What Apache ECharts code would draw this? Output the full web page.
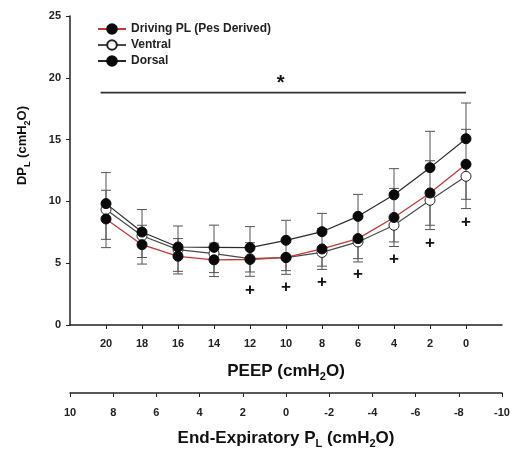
<!DOCTYPE html>
<html>
<head>
<meta charset="utf-8">
<script src="https://cdn.jsdelivr.net/npm/echarts@6/dist/echarts.min.js"></script>
<style>html,body{margin:0;padding:0;background:#fff}#c{width:515px;height:453px}</style>
</head>
<body>
<div id="c"></div>
<script>
// ---- data ----
const PEEP = [20, 18, 16, 14, 12, 10, 8, 6, 4, 2, 0];
const PL_TICKS = [10, 8, 6, 4, 2, 0, -2, -4, -6, -8, -10];
const dorsal    = [9.82, 7.52, 6.31, 6.28, 6.26, 6.85, 7.55, 8.79, 10.53, 12.73, 15.07];
const dorsalSD  = [2.51, 1.82, 1.70, 1.80, 1.70, 1.62, 1.48, 1.78, 2.12, 2.94, 2.89];
const driving   = [8.58, 6.50, 5.56, 5.27, 5.30, 5.47, 6.15, 6.99, 8.70, 10.68, 13.00];
const drivingSD = [2.32, 1.57, 1.43, 1.35, 1.36, 1.37, 1.65, 1.89, 2.35, 2.61, 2.83];
const ventral   = [9.34, 7.22, 6.10, 5.78, 5.37, 5.45, 5.87, 6.72, 8.07, 10.09, 12.03];
const ventralSD = [2.41, 1.76, 1.76, 1.54, 1.08, 1.05, 1.11, 1.35, 1.35, 2.37, 2.61];
const plusPEEP  = [12, 10, 8, 6, 4, 2, 0];
const plusY     = [2.80, 3.05, 3.42, 4.10, 5.33, 6.60, 8.30];
const sigLineX  = [20.3, 0];
const sigLineY  = 18.8;
const starX     = 10.3;
const starY     = 19.5;

const FONT = '"Liberation Sans", Arial, Helvetica, sans-serif';
const pairs = (xs, ys) => xs.map((x, i) => [x, ys[i]]);
const triples = (xs, ys, es) => xs.map((x, i) => [x, ys[i], es[i]]);

function errSeries(vals, sds, dir) {
  return {
    type: 'custom', z: 1, silent: true,
    encode: { x: 0, y: 1 },
    data: triples(PEEP, vals, sds),
    renderItem: function (params, api) {
      const x = api.value(0), y = api.value(1), sd = api.value(2);
      const c = api.coord([x, y]);
      const hi = api.coord([x, y + sd]);
      const lo = api.coord([x, y - sd]);
      const w = 5;
      const style = { stroke: '#555', lineWidth: 1 };
      const ch = [];
      if (dir !== 'down') {
        ch.push({ type: 'line', shape: { x1: c[0], y1: c[1], x2: hi[0], y2: hi[1] }, style: style });
        ch.push({ type: 'line', shape: { x1: hi[0] - w, y1: hi[1], x2: hi[0] + w, y2: hi[1] }, style: style });
      }
      if (dir !== 'up') {
        ch.push({ type: 'line', shape: { x1: c[0], y1: c[1], x2: lo[0], y2: lo[1] }, style: style });
        ch.push({ type: 'line', shape: { x1: lo[0] - w, y1: lo[1], x2: lo[0] + w, y2: lo[1] }, style: style });
      }
      return { type: 'group', children: ch };
    }
  };
}

function textSeries(xs, ys, txt, size) {
  return {
    type: 'custom', z: 5, silent: true,
    encode: { x: 0, y: 1 },
    data: pairs(xs, ys),
    renderItem: function (params, api) {
      const c = api.coord([api.value(0), api.value(1)]);
      return { type: 'text', x: c[0], y: c[1],
        style: { text: txt, fill: '#111', font: 'bold ' + size + 'px ' + FONT, align: 'center', verticalAlign: 'middle' } };
    }
  };
}

const titleRich = {
  a: { fontSize: 17, fontWeight: 'bold', fontFamily: FONT, color: '#111', lineHeight: 22 },
  s: { fontSize: 11, fontWeight: 'bold', fontFamily: FONT, color: '#111', lineHeight: 12, verticalAlign: 'bottom' }
};
const yRich = {
  a: { fontSize: 13, fontWeight: 'bold', fontFamily: FONT, color: '#111', lineHeight: 20 },
  s: { fontSize: 9, fontWeight: 'bold', fontFamily: FONT, color: '#111', lineHeight: 11, verticalAlign: 'bottom' }
};
const axisLbl = { fontSize: 11, fontWeight: 'bold', fontFamily: FONT, color: '#222' };
const axisLineStyle = { color: '#222', width: 1.5 };

const chart = echarts.init(document.getElementById('c'), null, { renderer: 'canvas' });
chart.setOption({
  animation: false,
  backgroundColor: '#fff',
  grid: { left: 70, right: 13, top: 16, bottom: 128, outerBoundsMode: 'none', containLabel: false },
  legend: {
    orient: 'vertical', left: 92, top: 18,
    itemWidth: 28, itemHeight: 12, itemGap: 4,
    data: ['Driving PL (Pes Derived)', 'Ventral', 'Dorsal'],
    textStyle: { fontSize: 12, fontWeight: 'bold', fontFamily: FONT, color: '#222' }
  },
  xAxis: [
    {
      type: 'value', min: -2, max: 22, interval: 2, inverse: true, position: 'bottom',
      axisLine: { show: true, onZero: false, lineStyle: axisLineStyle },
      axisTick: { show: true, length: 4, customValues: PEEP, lineStyle: { color: '#222' } },
      axisLabel: { customValues: PEEP, margin: 13, ...axisLbl },
      splitLine: { show: false },
      name: '{a|PEEP (cmH}{s|2}{a|O)}', nameLocation: 'middle', nameGap: 35, nameMoveOverlap: false,
      nameTextStyle: { rich: titleRich }
    },
    {
      type: 'value', min: -10, max: 10, interval: 2, inverse: true, position: 'bottom', offset: 68,
      axisLine: { show: true, onZero: false, lineStyle: axisLineStyle },
      axisTick: { show: true, length: 4, customValues: PL_TICKS, lineStyle: { color: '#222' } },
      axisLabel: { customValues: PL_TICKS, margin: 14, ...axisLbl },
      splitLine: { show: false },
      name: '{a|End-Expiratory P}{s|L}{a| (cmH}{s|2}{a|O)}', nameLocation: 'middle', nameGap: 34, nameMoveOverlap: false,
      nameTextStyle: { rich: titleRich }
    }
  ],
  yAxis: {
    type: 'value', min: 0, max: 25, interval: 5,
    axisLine: { show: true, onZero: false, lineStyle: axisLineStyle },
    axisTick: { show: true, length: 4, lineStyle: { color: '#222' } },
    axisLabel: { margin: 9, ...axisLbl },
    splitLine: { show: false },
    name: '{a|DP}{s|L}{a| (cmH}{s|2}{a|O)}', nameLocation: 'middle', nameGap: 38, nameRotate: 90, nameMoveOverlap: false,
    nameTextStyle: { rich: yRich, padding: [0, 0, 0, 50] }
  },
  series: [
    errSeries(dorsal, dorsalSD, 'up'),
    errSeries(driving, drivingSD, 'both'),
    errSeries(ventral, ventralSD, 'down'),
    {
      name: 'Ventral', type: 'line', z: 2, data: pairs(PEEP, ventral),
      symbol: 'circle', symbolSize: 10,
      lineStyle: { color: '#4a4a4a', width: 1.2 },
      itemStyle: { color: '#fff', borderColor: '#222', borderWidth: 1 }
    },
    {
      name: 'Driving PL (Pes Derived)', type: 'line', z: 3, data: pairs(PEEP, driving),
      symbol: 'circle', symbolSize: 10,
      lineStyle: { color: '#c0393b', width: 1.3 },
      itemStyle: { color: '#0a0a0a', borderColor: '#0a0a0a', borderWidth: 1 }
    },
    {
      name: 'Dorsal', type: 'line', z: 4, data: pairs(PEEP, dorsal),
      symbol: 'circle', symbolSize: 10,
      lineStyle: { color: '#2a2a2a', width: 1.2 },
      itemStyle: { color: '#0a0a0a', borderColor: '#0a0a0a', borderWidth: 1 }
    },
    {
      type: 'line', z: 2, silent: true, symbol: 'none',
      data: sigLineX.map(x => [x, sigLineY]),
      lineStyle: { color: '#333', width: 1.8 }
    },
    textSeries([starX], [starY], '*', 20),
    textSeries(plusPEEP, plusY, '+', 17)
  ]
});
</script>
</body>
</html>
